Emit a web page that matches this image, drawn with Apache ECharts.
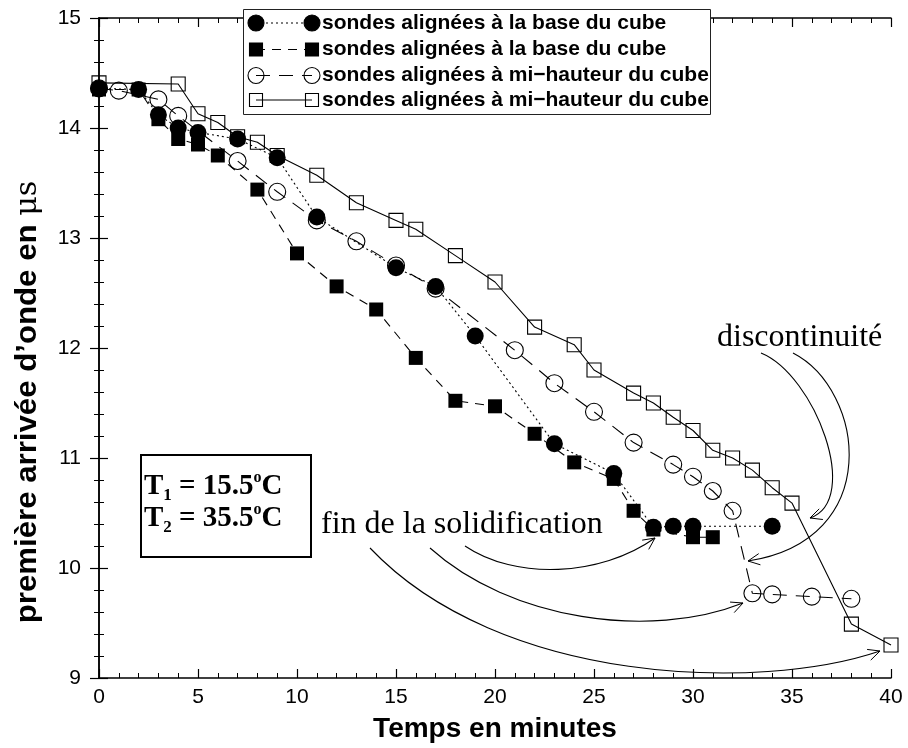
<!DOCTYPE html>
<html><head><meta charset="utf-8">
<script src="https://cdn.jsdelivr.net/npm/echarts@6/dist/echarts.min.js"></script>
<style>html,body{margin:0;padding:0;background:#fff}#c{width:908px;height:748px}</style>
</head><body><div id="c"></div>
<script>
// ---- data ----
const timeBaseCircles    = [0,2,3,4,5,7,9,11,15,17,19,23,26,28,29,30,34];
const arrivalBaseCircles = [14.36,14.35,14.12,14.0,13.96,13.9,13.73,13.19,12.73,12.56,12.11,11.13,10.86,10.37,10.38,10.38,10.38];

const timeBaseSquares    = [0,2,3,4,5,6,8,10,12,14,16,18,20,22,24,26,27,28,30,31];
const arrivalBaseSquares = [14.35,14.35,14.08,13.9,13.85,13.75,13.44,12.86,12.56,12.35,11.91,11.52,11.47,11.22,10.96,10.81,10.52,10.35,10.28,10.28];

const timeMidCircles     = [0,1,3,4,7,9,11,13,15,17,21,23,25,27,29,30,31,32,33,34,36,38];
const arrivalMidCircles  = [14.36,14.34,14.26,14.11,13.70,13.42,13.16,12.97,12.75,12.54,11.98,11.68,11.42,11.14,10.94,10.83,10.70,10.52,9.77,9.76,9.74,9.72];

const timeMidSquares     = [0,4,5,6,7,8,9,11,13,15,16,18,20,22,24,25,27,28,29,30,31,32,33,34,35,38,40];
const arrivalMidSquares  = [14.41,14.40,14.13,14.05,13.92,13.87,13.75,13.57,13.32,13.16,13.08,12.84,12.60,12.19,12.03,11.80,11.59,11.50,11.37,11.25,11.07,11.0,10.89,10.73,10.59,9.49,9.30];

const seriesNames = [
  'sondes alignées à la base du cube',
  'sondes alignées à la base du cube',
  'sondes alignées à mi\u2212hauteur du cube',
  'sondes alignées à mi\u2212hauteur du cube'
];
const xTickLabels = ['0','5','10','15','20','25','30','35','40'];
const yTickLabels = ['9','10','11','12','13','14','15'];
const xTitle = 'Temps en minutes';
const yTitle = 'première arrivée d\u2019onde en ';
const yTitleUnit = '\u03bcs';
const tempLines = [['1','15.5'],['2','35.5']];
const noteDiscontinuity = 'discontinuité';
const noteSolidification = 'fin de la solidification';

// ---- helpers ----
function zip(xs, ys){ return xs.map((x,i)=>[x, ys[i]]); }
const X_MIN = +xTickLabels[0], X_MAX = +xTickLabels[xTickLabels.length-1];
const Y_MIN = +yTickLabels[0], Y_MAX = +yTickLabels[yTickLabels.length-1];

const chart = echarts.init(document.getElementById('c'), null, {renderer:'canvas'});

const axisCommon = {
  type:'value',
  axisLine:{show:true, lineStyle:{color:'#000', width:1.5}},
  axisTick:{show:true, inside:true, length:9, lineStyle:{color:'#000', width:1.2}},
  minorTick:{show:true, splitNumber:5, length:5, lineStyle:{color:'#000', width:1}},
  splitLine:{show:false},
  minorSplitLine:{show:false}
};

const series = [
  { id:'midSquares', name:seriesNames[3], type:'line', data:zip(timeMidSquares, arrivalMidSquares),
    symbol:'rect', symbolSize:14, z:2,
    itemStyle:{color:'rgba(255,255,255,0)', borderColor:'#000', borderWidth:1.1},
    lineStyle:{color:'#000', width:1.1, type:'solid'} },
  { id:'midCircles', name:seriesNames[2], type:'line', data:zip(timeMidCircles, arrivalMidCircles),
    symbol:'circle', symbolSize:17, z:3,
    itemStyle:{color:'rgba(255,255,255,0)', borderColor:'#000', borderWidth:1.1},
    lineStyle:{color:'#000', width:1.1, type:[14,9]} },
  { id:'baseSquares', name:seriesNames[1], type:'line', data:zip(timeBaseSquares, arrivalBaseSquares),
    symbol:'rect', symbolSize:14, z:4,
    itemStyle:{color:'#000'},
    lineStyle:{color:'#000', width:1.1, type:[9,7]} },
  { id:'baseCircles', name:seriesNames[0], type:'line', data:zip(timeBaseCircles, arrivalBaseCircles),
    symbol:'circle', symbolSize:17, z:5,
    itemStyle:{color:'#000'},
    lineStyle:{color:'#000', width:1.1, type:[2,3]} }
];
series.forEach(s=>{ s.animation=false; s.showAllSymbol=true; s.emphasis={disabled:true}; s.silent=true; });

const option = {
  animation:false,
  backgroundColor:'#fff',
  grid:{left:99, right:17, top:18, bottom:67, containLabel:false},
  xAxis:[
    Object.assign({}, axisCommon, {position:'bottom', min:X_MIN, max:X_MAX, interval:5,
      axisLabel:{color:'#000', fontSize:21, fontFamily:'Liberation Sans, Arial, sans-serif', margin:9},
      name:xTitle, nameLocation:'middle', nameGap:37,
      nameTextStyle:{color:'#000', fontSize:28, fontWeight:'bold', fontFamily:'Liberation Sans, Arial, sans-serif'}}),
    Object.assign({}, axisCommon, {position:'top', min:X_MIN, max:X_MAX, interval:5, axisLabel:{show:false}})
  ],
  yAxis:[
    Object.assign({}, axisCommon, {position:'left', min:Y_MIN, max:Y_MAX, interval:1,
      axisLabel:{color:'#000', fontSize:21, fontFamily:'Liberation Sans, Arial, sans-serif', margin:18}}),
    Object.assign({}, axisCommon, {position:'right', min:Y_MIN, max:Y_MAX, interval:1, axisLabel:{show:false}})
  ],
  series: series
};
chart.setOption(option);

// ---- annotations / legend drawn as graphics ----
const g = [];
function arrowHead(tipX, tipY, fromX, fromY, len){
  const a = Math.atan2(tipY-fromY, tipX-fromX);
  const d = 0.45;
  return {type:'polyline', z:100, silent:true,
    shape:{points:[[tipX-len*Math.cos(a-d), tipY-len*Math.sin(a-d)],[tipX,tipY],[tipX-len*Math.cos(a+d), tipY-len*Math.sin(a+d)]]},
    style:{stroke:'#000', lineWidth:1, fill:null}};
}
function curve(p0, c1, c2, p3){
  g.push({type:'bezierCurve', z:100, silent:true,
    shape:{x1:p0[0], y1:p0[1], cpx1:c1[0], cpy1:c1[1], cpx2:c2[0], cpy2:c2[1], x2:p3[0], y2:p3[1]},
    style:{stroke:'#000', lineWidth:1.1, fill:null}});
  g.push(arrowHead(p3[0], p3[1], c2[0], c2[1], 13));
}
// discontinuité arrows
curve([761,353],[815,375],[862,500],[810,518]);
curve([793,353],[865,390],[885,540],[748,561]);
// fin de la solidification arrows
curve([465,546],[515,580],[600,577],[655,538]);
curve([430,548],[510,620],[650,640],[743,603]);
curve([370,548],[500,685],[760,692],[880,651]);

g.push({type:'text', z:100, silent:true, style:{text:noteDiscontinuity, x:717, y:338,
  font:'32px "Liberation Serif", "Times New Roman", serif', fill:'#000', textAlign:'left', textVerticalAlign:'middle'}});
g.push({type:'text', z:100, silent:true, style:{text:noteSolidification, x:321, y:525,
  font:'32px "Liberation Serif", "Times New Roman", serif', fill:'#000', textAlign:'left', textVerticalAlign:'middle'}});

// y-axis title
g.push({type:'text', z:100, silent:true, x:28, y:402, rotation:Math.PI/2, scaleX:1.04, style:{
  text:'{b|' + yTitle + '}{mu|' + yTitleUnit + '}', textAlign:'center', textVerticalAlign:'middle',
  rich:{
    b:{fontSize:30, fontWeight:'bold', fontFamily:'Liberation Sans, Arial, sans-serif', color:'#000'},
    mu:{fontSize:29, fontWeight:'normal', fontFamily:'DejaVu Serif, serif', color:'#000'}
  }}});

// temperature box
g.push({type:'rect', z:100, silent:true, shape:{x:141, y:455, width:170, height:102},
  style:{fill:'#fff', stroke:'#000', lineWidth:2}});
tempLines.forEach((t, i)=>{
  g.push({type:'text', z:101, silent:true, style:{
    text:'{a|T}{s|' + t[0] + '}{a| = ' + t[1] + '}{o|o}{a|C}', x:144, y:487 + i*32,
    textAlign:'left', textVerticalAlign:'middle',
    rich:{
      a:{fontSize:29, fontWeight:'bold', fontFamily:'Liberation Serif, serif', color:'#000', lineHeight:34},
      s:{fontSize:17, fontWeight:'bold', fontFamily:'Liberation Serif, serif', color:'#000', verticalAlign:'bottom', lineHeight:34},
      o:{fontSize:16, fontWeight:'bold', fontFamily:'Liberation Serif, serif', color:'#000', verticalAlign:'top', lineHeight:34}
    }}});
});

// legend
g.push({type:'rect', z:100, silent:true, shape:{x:243.5, y:9.5, width:467, height:105},
  style:{fill:'#fff', stroke:'#222', lineWidth:1}});
const rowsY = [23, 49.5, 75.5, 100];
const lx1 = 256, lx2 = 312;
const legendStyles = [
  {sym:'circle', filled:true, dash:[2,3]},
  {sym:'rect', filled:true, dash:[9,7]},
  {sym:'circle', filled:false, dash:[14,9]},
  {sym:'rect', filled:false, dash:null}
];
legendStyles.forEach((ls, i)=>{
  const y = rowsY[i];
  g.push({type:'line', z:101, silent:true, shape:{x1:lx1, y1:y, x2:lx2, y2:y},
    style:{stroke:'#000', lineWidth:1.1, lineDash:ls.dash}});
  [lx1, lx2].forEach(x=>{
    if (ls.sym==='circle') {
      g.push({type:'circle', z:102, silent:true, shape:{cx:x, cy:y, r:8},
        style:{fill: ls.filled ? '#000' : 'rgba(0,0,0,0)', stroke:'#000', lineWidth:1.1}});
    } else {
      g.push({type:'rect', z:102, silent:true, shape:{x:x-6.5, y:y-6.5, width:13, height:13},
        style:{fill: ls.filled ? '#000' : 'rgba(0,0,0,0)', stroke:'#000', lineWidth:1.1}});
    }
  });
  g.push({type:'text', z:102, silent:true, style:{text:seriesNames[i], x:322, y:y,
    font:'bold 21px "Liberation Sans", Arial, sans-serif', fill:'#000', textAlign:'left', textVerticalAlign:'middle'}});
});

chart.setOption({graphic:{elements:g}});
</script></body></html>
